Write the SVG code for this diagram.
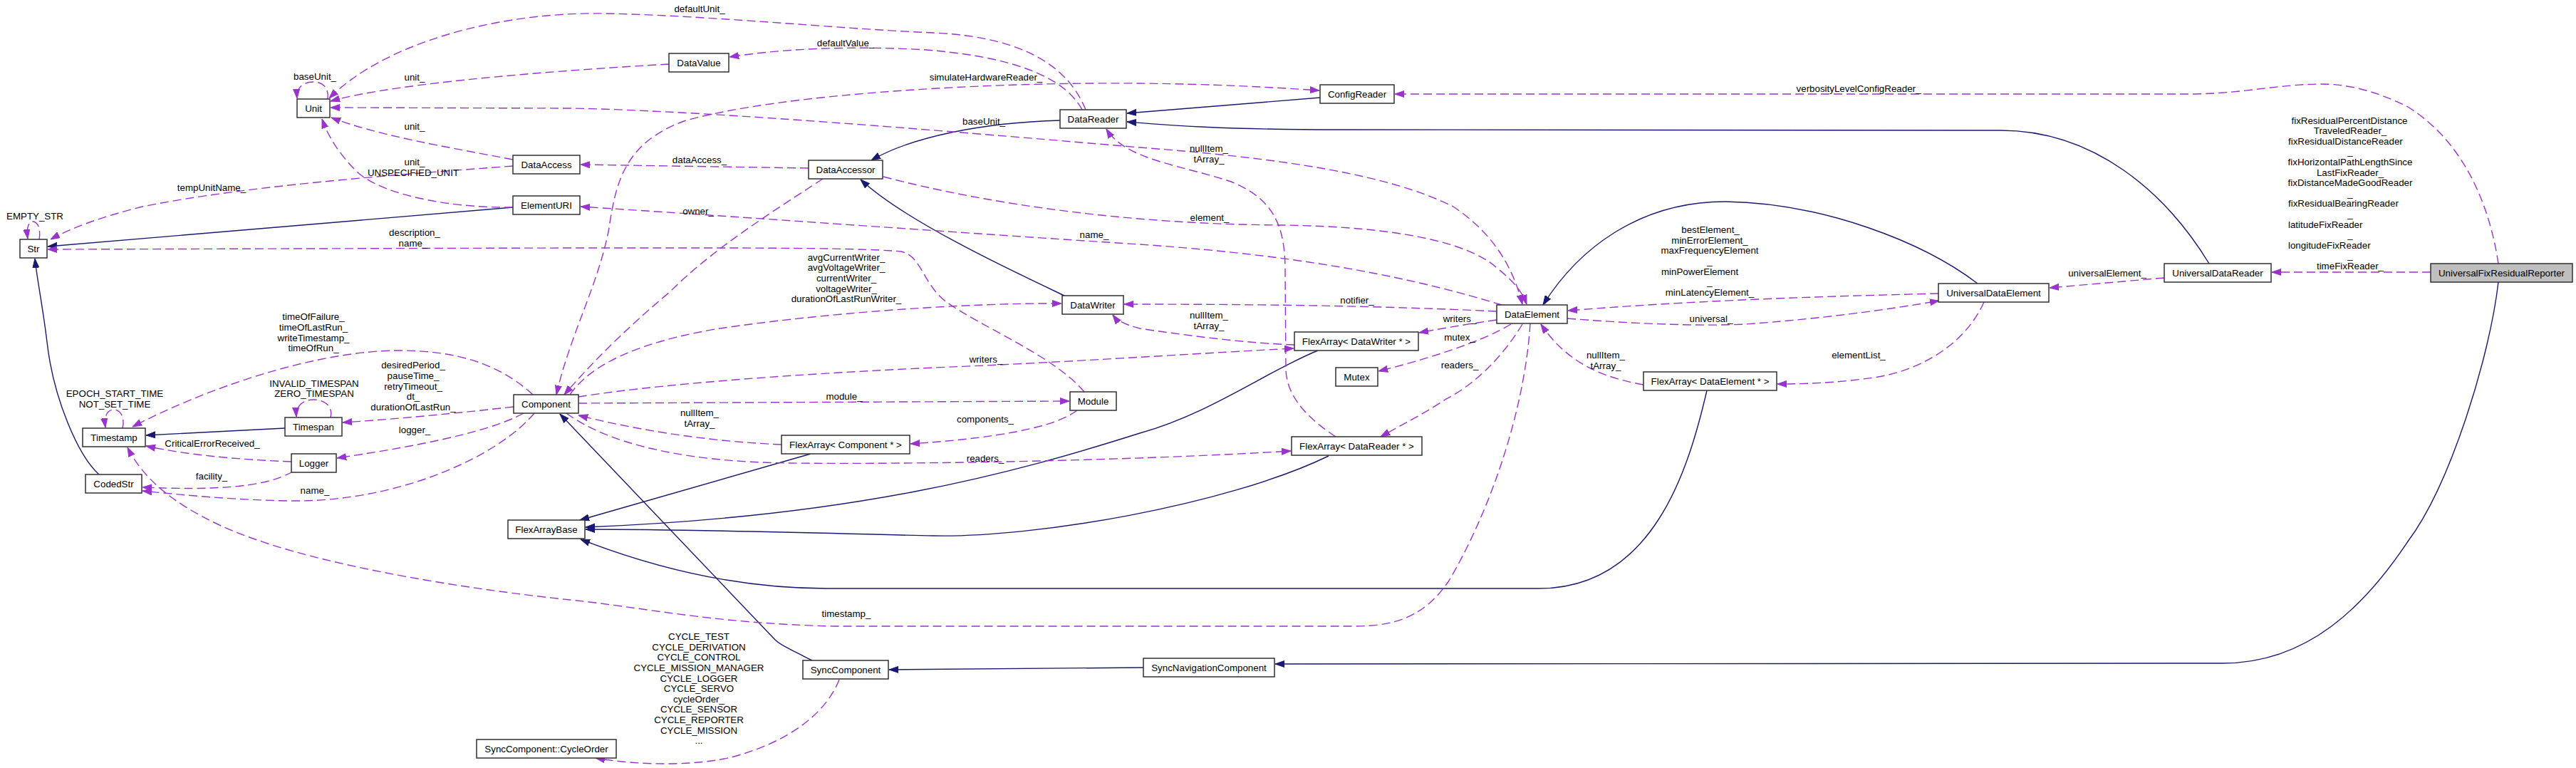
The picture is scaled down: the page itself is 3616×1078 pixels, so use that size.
<svg xmlns="http://www.w3.org/2000/svg" width="3616" height="1078" viewBox="0 0 3616 1078">
<style>
text{font-family:"Liberation Sans",Arial,sans-serif;font-size:13.33px;fill:#000}
.n rect{fill:#fff;stroke:#303030;stroke-width:1.5}
.n text{text-anchor:middle}
.inh{fill:none;stroke:#191970;stroke-width:1.4;marker-end:url(#an)}
.use{fill:none;stroke:#9a32cd;stroke-width:1.4;stroke-dasharray:12,6;marker-end:url(#ap)}
.both{marker-start:url(#ap)}
.l{text-anchor:middle}
.s{text-anchor:start}
</style>
<defs>
<marker id="an" viewBox="0 0 13 10" refX="13" refY="5" markerWidth="13" markerHeight="10" markerUnits="userSpaceOnUse" orient="auto-start-reverse"><path d="M0,0.5 L13,5 L0,9.5 z" fill="#191970" stroke="#191970"/></marker>
<marker id="ap" viewBox="0 0 13 10" refX="13" refY="5" markerWidth="13" markerHeight="10" markerUnits="userSpaceOnUse" orient="auto-start-reverse"><path d="M0,0.5 L13,5 L0,9.5 z" fill="#9a32cd" stroke="#9a32cd"/></marker>
</defs>
<rect width="3616" height="1078" fill="#fff"/>
<g id="edges">
<path class="inh" d="M720,291 L67,346"/>
<path class="inh" d="M139,666 C110,640 75,560 66,480 C60,430 52,392 49,363"/>
<path class="inh" d="M400,601 L205,611"/>
<path class="inh" d="M1488,169 C1380,172 1280,192 1223,225"/>
<path class="inh" d="M1494,415 C1420,380 1270,310 1208,252"/>
<path class="inh" d="M1853,137 L1582,159"/>
<path class="inh" d="M3101,370 C3040,270 2940,183 2808,183 L1880,182 C1700,182 1620,174 1582,171"/>
<path class="inh" d="M2776,398 C2700,340 2560,285 2422,283 C2300,283 2215,350 2166,428"/>
<path class="inh" d="M1138,637 L814,730"/>
<path class="inh" d="M1850,492 C1780,520 1700,580 1600,608 C1420,665 1200,725 822,740"/>
<path class="inh" d="M1865,640 C1720,710 1450,755 1310,752 C1200,750 1000,743 822,743"/>
<path class="inh" d="M2396,548 C2370,660 2320,826 2160,826 L1160,826 C1020,826 900,790 815,757"/>
<path class="inh" d="M1140,927 C1110,912 1095,905 1088,898 L786,581"/>
<path class="inh" d="M1605,937 L1248,940"/>
<path class="inh" d="M3507,396 C3495,500 3440,680 3380,760 C3320,850 3240,931 3120,931 L1790,932"/>

<path class="use" d="M1524,154 C1500,95 1440,52 1310,46 C1170,40 1000,22 851,19 C700,16 540,60 462,138"/>
<path class="use" d="M1519,154 C1490,100 1400,78 1300,70 C1200,64 1100,68 1024,80"/>
<path class="use" d="M939,90 C800,98 560,115 464,142"/>
<path class="use both" d="M2137,427 C2125,380 2100,330 2040,290 C1950,245 1800,222 1600,207 C1400,190 1000,155 800,152 L464,151"/>
<path class="use" d="M720,224 C620,205 530,190 465,165"/>
<path class="use" d="M720,291 C620,292 530,270 500,240 C475,215 460,190 452,167"/>
<path class="use" d="M720,233 C560,245 350,260 200,290 C140,305 100,320 71,336"/>
<path class="use" d="M55,336 C58,318 51,311 46,311 C40,311 37,320 39,335"/>
<path class="use" d="M1522,550 C1480,500 1380,460 1330,425 C1295,400 1295,360 1265,353 C1200,347 1000,348 800,348 L67,350"/>
<path class="use" d="M1135,236 L815,231"/>
<path class="use" d="M2108,428 C2000,395 1850,360 1600,343 C1350,327 1050,305 815,290"/>
<path class="use both" d="M781,554 C800,470 840,400 855,320 C865,250 880,200 960,170 C1100,130 1400,115 1600,117 C1700,118 1780,122 1852,127"/>
<path class="use" d="M1155,251 C1080,300 1000,350 940,410 C880,460 830,510 792,554"/>
<path class="use" d="M748,554 C700,510 640,492 560,492 C450,492 300,540 186,599"/>
<path class="use" d="M721,571 C640,580 560,588 481,593"/>
<path class="use" d="M735,580 C680,610 560,630 473,643"/>
<path class="use" d="M409,648 C330,645 260,638 205,626"/>
<path class="use" d="M411,662 C370,685 300,688 200,684"/>
<path class="use" d="M750,580 C700,640 560,705 408,703 C330,702 260,695 200,689"/>
<path class="use" d="M2148,454 C2140,580 2090,720 2034,815 C2000,865 1960,879 1900,879 L1170,879 C1000,875 900,852 800,842 C640,825 420,790 306,736 C240,705 200,670 179,628"/>
<path class="use" d="M800,554 C830,510 900,480 1004,462 C1150,440 1350,425 1490,426"/>
<path class="use" d="M812,557 C950,535 1200,520 1384,513 C1550,505 1700,495 1816,489"/>
<path class="use" d="M1817,484 C1750,482 1660,470 1600,461 C1580,456 1568,450 1562,442"/>
<path class="use" d="M2101,437 C1950,430 1800,427 1578,427"/>
<path class="use" d="M1875,613 C1840,590 1807,560 1805,520 L1804,380 C1804,320 1790,280 1728,255 C1660,232 1580,225 1553,181"/>
<path class="use" d="M1240,248 C1400,290 1600,315 1800,316 C1960,318 2060,340 2100,375 C2125,395 2137,410 2143,427"/>
<path class="use" d="M2101,449 C2060,455 2030,460 1992,467"/>
<path class="use" d="M2121,455 C2080,480 2000,505 1935,521"/>
<path class="use" d="M2137,455 C2110,500 2070,540 2030,560 C2000,580 1970,595 1938,613"/>
<path class="use" d="M2307,540 C2250,530 2200,510 2163,455"/>
<path class="use" d="M2721,412 C2600,415 2400,420 2201,436"/>
<path class="use" d="M2200,447 C2300,455 2391,458 2450,455 C2550,448 2650,435 2722,422"/>
<path class="use" d="M3038,390 L2877,404"/>
<path class="use" d="M2785,424 C2760,480 2700,520 2630,530 C2580,537 2540,539 2495,539"/>
<path class="use" d="M3412,382 L3189,382"/>
<path class="use" d="M3507,370 C3495,290 3460,200 3380,150 C3330,125 3290,118 3260,118 C3200,118 3150,131 3080,132 L1958,132"/>
<path class="use" d="M1178,954 C1160,1000 1110,1040 1030,1062 C980,1075 900,1075 836,1064"/>
<path class="use" d="M812,566 L1501,563"/>
<path class="use" d="M1512,576 C1480,600 1400,615 1278,623"/>
<path class="use" d="M1097,624 C1000,620 900,605 812,583"/>
<path class="use" d="M795,580 C850,620 950,648 1106,650 C1300,652 1600,646 1812,633"/>
<path class="use" d="M460,139 C462,122 452,115 440,115 C426,115 416,122 417,138"/>
<path class="use" d="M172,601 C176,585 168,575 160,575 C150,575 146,585 148,600"/>
<path class="use" d="M464,586 C468,570 455,561 440,561 C425,561 415,570 416,585"/>

<g id="edge-labels">
<text class="l" x="442" y="111.5">baseUnit_</text>
<text class="l" x="582" y="112.5">unit_</text>
<text class="l" x="582" y="181.5">unit_</text>
<text class="l" x="582" y="231.5">unit_</text>
<text class="l" x="580" y="246.5">UNSPECIFIED_UNIT</text>
<text class="l" x="297" y="267.5">tempUnitName_</text>
<text class="l" x="49" y="307.5">EMPTY_STR</text>
<text class="l" x="582" y="330.5">description_</text>
<text class="l" x="580" y="345.5">name_</text>
<text class="l" x="982" y="16.5">defaultUnit_</text>
<text class="l" x="1187" y="65">defaultValue_</text>
<text class="l" x="1384" y="113">simulateHardwareReader_</text>
<text class="l" x="1381" y="175">baseUnit_</text>
<text class="l" x="982" y="229">dataAccess_</text>
<text class="l" x="980" y="300.5">owner_</text>
<text class="l" x="1536" y="333.5">name_</text>
<text class="l" x="1697" y="212.5">nullItem_</text>
<text class="l" x="1697" y="227.5">tArray_</text>
<text class="l" x="1698" y="309.5">element_</text>
<text class="l" x="1905" y="425.5">notifier_</text>
<text class="l" x="1697" y="447">nullItem_</text>
<text class="l" x="1697" y="461.5">tArray_</text>
<text class="l" x="1384" y="508.5">writers_</text>
<text class="l" x="2049" y="451.5">writers_</text>
<text class="l" x="2049" y="477.5">mutex_</text>
<text class="l" x="2049" y="516.5">readers_</text>
<text class="l" x="2254" y="502.5">nullItem_</text>
<text class="l" x="2254" y="517.5">tArray_</text>
<text class="l" x="2402" y="451.5">universal_</text>
<text class="l" x="2958" y="387.5">universalElement_</text>
<text class="l" x="2609" y="502.5">elementList_</text>
<text class="l" x="2609" y="128.5">verbosityLevelConfigReader_</text>
<text class="l" x="1185" y="561">module_</text>
<text class="l" x="982" y="584">nullItem_</text>
<text class="l" x="982" y="598.5">tArray_</text>
<text class="l" x="1383" y="592.5">components_</text>
<text class="l" x="1383" y="648">readers_</text>
<text class="l" x="582" y="608">logger_</text>
<text class="l" x="298" y="626.5">CriticalErrorReceived_</text>
<text class="l" x="297" y="673">facility_</text>
<text class="l" x="442" y="693">name_</text>
<text class="l" x="1188" y="865.5">timestamp_</text>
<text class="l" x="440" y="448.5">timeOfFailure_</text>
<text class="l" x="440" y="463.5">timeOfLastRun_</text>
<text class="l" x="440" y="478.5">writeTimestamp_</text>
<text class="l" x="440" y="492.5">timeOfRun_</text>
<text class="l" x="580" y="517">desiredPeriod_</text>
<text class="l" x="580" y="532">pauseTime_</text>
<text class="l" x="580" y="547">retryTimeout_</text>
<text class="l" x="580" y="561">dt_</text>
<text class="l" x="580" y="576">durationOfLastRun_</text>
<text class="l" x="161" y="556.5">EPOCH_START_TIME</text>
<text class="l" x="161" y="571.5">NOT_SET_TIME</text>
<text class="l" x="441" y="542.5">INVALID_TIMESPAN</text>
<text class="l" x="441" y="557">ZERO_TIMESPAN</text>
<text class="l" x="1188" y="365.5">avgCurrentWriter_</text>
<text class="l" x="1188" y="379.5">avgVoltageWriter_</text>
<text class="l" x="1188" y="394.5">currentWriter_</text>
<text class="l" x="1188" y="409.5">voltageWriter_</text>
<text class="l" x="1188" y="423.5">durationOfLastRunWriter_</text>
<text class="l" x="2401" y="327">bestElement_</text>
<text class="l" x="2400" y="341.5">minErrorElement_</text>
<text class="l" x="2400" y="356">maxFrequencyElement</text>
<text class="l" x="2400" y="370.5">_</text>
<text class="s" x="2332" y="385.5">minPowerElement</text>
<text class="l" x="2400" y="400">_</text>
<text class="l" x="2400" y="414.5">minLatencyElement_</text>
<text class="l" x="981" y="898">CYCLE_TEST</text>
<text class="l" x="981" y="912.5">CYCLE_DERIVATION</text>
<text class="l" x="981" y="927">CYCLE_CONTROL</text>
<text class="l" x="981" y="942">CYCLE_MISSION_MANAGER</text>
<text class="l" x="981" y="956.5">CYCLE_LOGGER</text>
<text class="l" x="981" y="971">CYCLE_SERVO</text>
<text class="l" x="981" y="985.5">cycleOrder_</text>
<text class="l" x="981" y="1000">CYCLE_SENSOR</text>
<text class="l" x="981" y="1015">CYCLE_REPORTER</text>
<text class="l" x="981" y="1029.5">CYCLE_MISSION</text>
<text class="l" x="981" y="1044">...</text>
<text class="l" x="3298" y="173.5">fixResidualPercentDistance</text>
<text class="l" x="3299" y="188">TraveledReader_</text>
<text class="s" x="3212" y="202.5">fixResidualDistanceReader</text>
<text class="l" x="3299" y="217">_</text>
<text class="l" x="3299" y="232">fixHorizontalPathLengthSince</text>
<text class="l" x="3299" y="246.5">LastFixReader_</text>
<text class="l" x="3299" y="261">fixDistanceMadeGoodReader</text>
<text class="l" x="3299" y="275.5">_</text>
<text class="s" x="3212" y="290">fixResidualBearingReader</text>
<text class="l" x="3299" y="305">_</text>
<text class="s" x="3212" y="319.5">latitudeFixReader</text>
<text class="l" x="3299" y="334">_</text>
<text class="s" x="3212" y="348.5">longitudeFixReader</text>
<text class="l" x="3299" y="363">_</text>
<text class="l" x="3299" y="378">timeFixReader_</text>
</g>
</g>

<g id="node-Unit" class="n"><rect x="417" y="139" width="46" height="26"/><text x="440" y="156.5">Unit</text></g>
<g id="node-Str" class="n"><rect x="28" y="336" width="38" height="26"/><text x="47" y="353.5">Str</text></g>
<g id="node-DataAccess" class="n"><rect x="720" y="218" width="94" height="26"/><text x="767" y="235.5">DataAccess</text></g>
<g id="node-ElementURI" class="n"><rect x="720" y="275" width="94" height="26"/><text x="767" y="292.5">ElementURI</text></g>
<g id="node-DataValue" class="n"><rect x="939" y="75" width="84" height="26"/><text x="981" y="92.5">DataValue</text></g>
<g id="node-DataReader" class="n"><rect x="1488" y="154" width="93" height="26"/><text x="1534.5" y="171.5">DataReader</text></g>
<g id="node-DataAccessor" class="n"><rect x="1135" y="225" width="104" height="26"/><text x="1187" y="242.5">DataAccessor</text></g>
<g id="node-DataWriter" class="n"><rect x="1491" y="415" width="86" height="26"/><text x="1534" y="432.5">DataWriter</text></g>
<g id="node-ConfigReader" class="n"><rect x="1853" y="119" width="104" height="26"/><text x="1905" y="136.5">ConfigReader</text></g>
<g id="node-DataElement" class="n"><rect x="2101" y="428" width="99" height="26"/><text x="2150.5" y="445.5">DataElement</text></g>
<g id="node-FlexArrayDataWriter" class="n"><rect x="1817" y="466" width="174" height="26"/><text x="1904" y="483.5">FlexArray&lt; DataWriter * &gt;</text></g>
<g id="node-Mutex" class="n"><rect x="1875" y="516" width="59" height="26"/><text x="1904.5" y="533.5">Mutex</text></g>
<g id="node-FlexArrayDataElement" class="n"><rect x="2307" y="522" width="187" height="26"/><text x="2400.5" y="539.5">FlexArray&lt; DataElement * &gt;</text></g>
<g id="node-UniversalDataElement" class="n"><rect x="2721" y="398" width="155" height="26"/><text x="2798.5" y="415.5">UniversalDataElement</text></g>
<g id="node-UniversalDataReader" class="n"><rect x="3038" y="370" width="150" height="26"/><text x="3113" y="387.5">UniversalDataReader</text></g>
<g id="node-UniversalFixResidualReporter" class="n"><rect x="3412" y="370" width="199" height="26" style="fill:#bfbfbf"/><text x="3511.5" y="387.5">UniversalFixResidualReporter</text></g>
<g id="node-Timestamp" class="n"><rect x="116" y="601" width="88" height="26"/><text x="160" y="618.5">Timestamp</text></g>
<g id="node-Timespan" class="n"><rect x="400" y="586" width="80" height="26"/><text x="440" y="603.5">Timespan</text></g>
<g id="node-Logger" class="n"><rect x="409" y="637" width="63" height="26"/><text x="440.5" y="654.5">Logger</text></g>
<g id="node-CodedStr" class="n"><rect x="120" y="666" width="79" height="26"/><text x="159.5" y="683.5">CodedStr</text></g>
<g id="node-Component" class="n"><rect x="721" y="554" width="91" height="26"/><text x="766.5" y="571.5">Component</text></g>
<g id="node-FlexArrayBase" class="n"><rect x="713" y="730" width="108" height="26"/><text x="767" y="747.5">FlexArrayBase</text></g>
<g id="node-CycleOrder" class="n"><rect x="669" y="1038" width="196" height="26"/><text x="767" y="1055.5">SyncComponent::CycleOrder</text></g>
<g id="node-Module" class="n"><rect x="1502" y="550" width="65" height="26"/><text x="1534.5" y="567.5">Module</text></g>
<g id="node-FlexArrayComponent" class="n"><rect x="1097" y="611" width="180" height="26"/><text x="1187" y="628.5">FlexArray&lt; Component * &gt;</text></g>
<g id="node-SyncComponent" class="n"><rect x="1127" y="927" width="120" height="26"/><text x="1187" y="944.5">SyncComponent</text></g>
<g id="node-FlexArrayDataReader" class="n"><rect x="1813" y="613" width="183" height="26"/><text x="1904.5" y="630.5">FlexArray&lt; DataReader * &gt;</text></g>
<g id="node-SyncNavigationComponent" class="n"><rect x="1605" y="924" width="184" height="26"/><text x="1697" y="941.5">SyncNavigationComponent</text></g>
</svg>
